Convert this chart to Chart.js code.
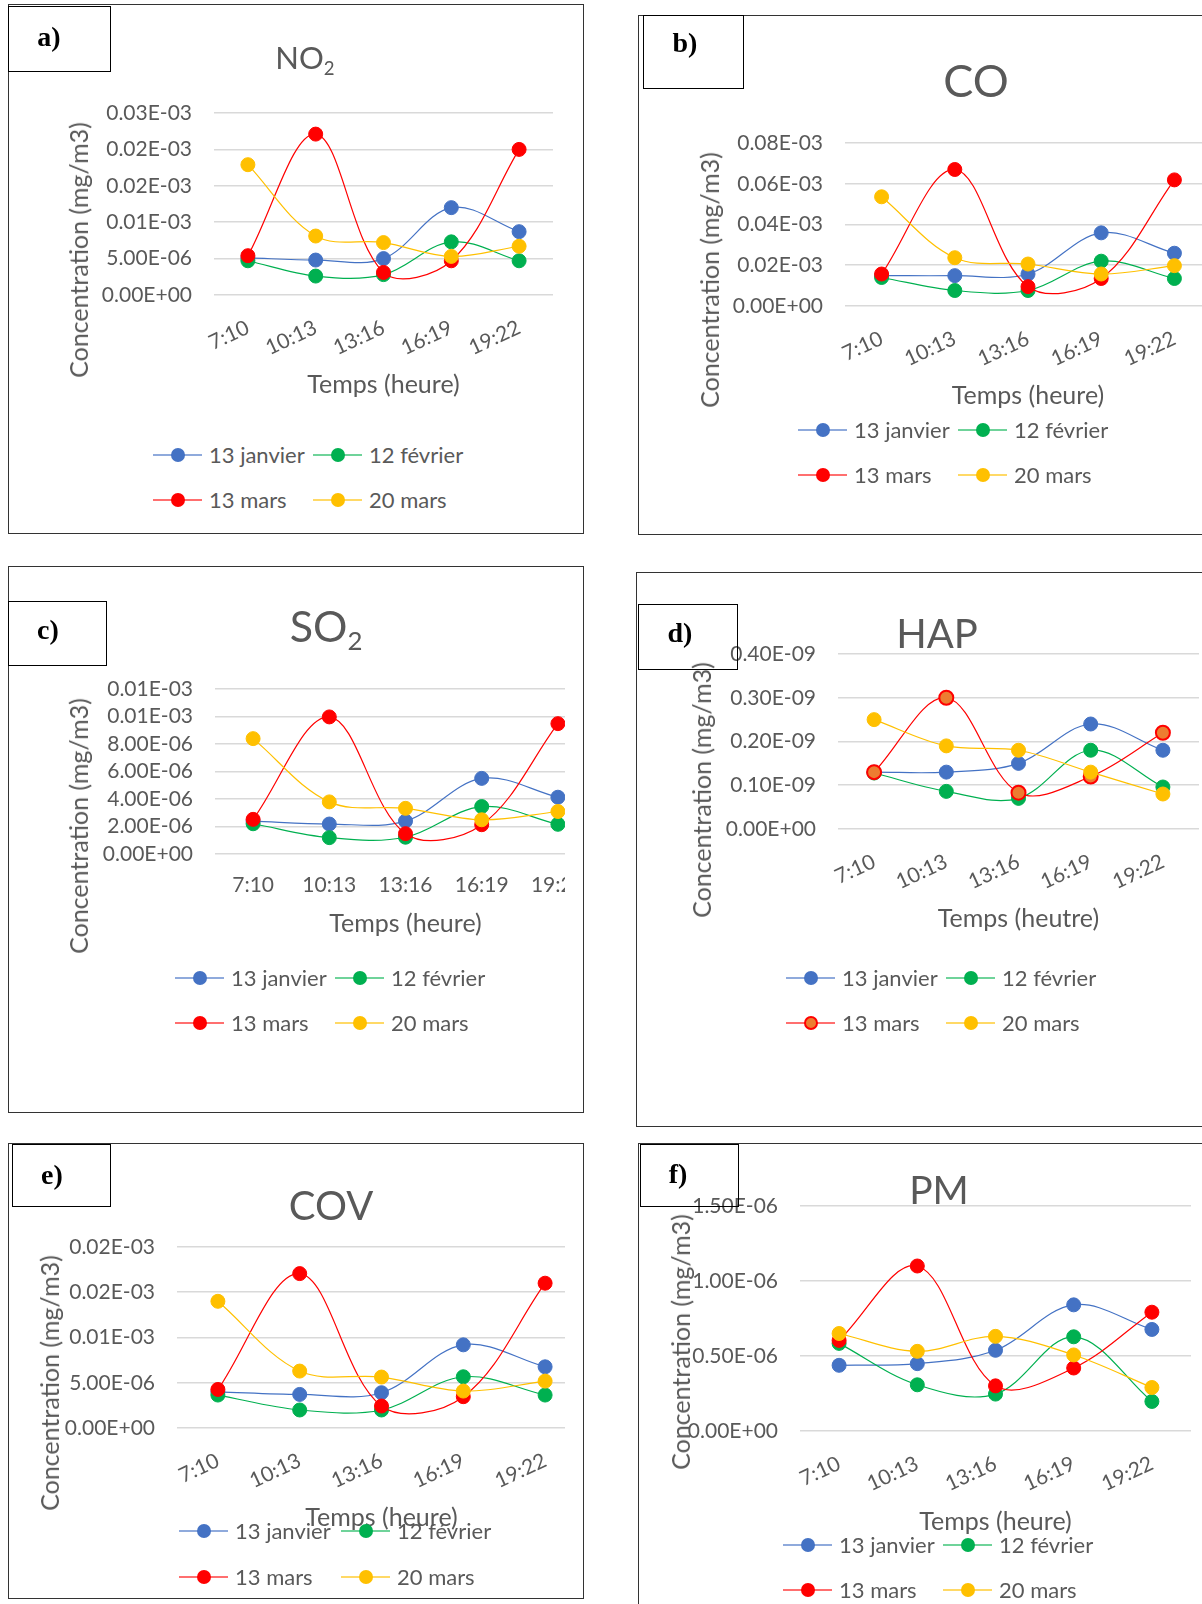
<!DOCTYPE html>
<html>
<head>
<meta charset="utf-8">
<script src="https://cdn.jsdelivr.net/npm/chart.js@4.4.1/dist/chart.umd.min.js"></script>
<style>
html, body { margin:0; padding:0; width:1202px; height:1604px; overflow:hidden; background:#fff; font-family:Lato, sans-serif; }
.frame { position:absolute; border:1.5px solid #333; box-sizing:border-box; }
.tag { position:absolute; border:1.5px solid #000; box-sizing:border-box; }
.t { position:absolute; white-space:nowrap; color:#595959; line-height:1.2; }
.tag-txt { position:absolute; transform:translate(-50%,-50%); font:bold 28px "Liberation Serif", serif; color:#000; }
.clip { position:absolute; left:0; top:0; height:1604px; overflow:hidden; }
sub { font-size:0.6em; vertical-align:-0.3em; }
</style>
</head>
<body>
<script>
const hours = ['7:10', '10:13', '13:16', '16:19', '19:22'];
const days = ['13 janvier', '12 février', '13 mars', '20 mars'];
const dayColors = ['#4472C4', '#00B050', '#FF0000', '#FFC000'];
const legendLines = ['#8FAADC', '#6FD39A', '#FF6F6F', '#FFD966'];

// a) NO2
const no2Jan = [5.1e-6, 4.8e-6, 5.0e-6, 12.0e-6, 8.7e-6];
const no2Fev = [4.7e-6, 2.6e-6, 2.8e-6, 7.3e-6, 4.7e-6];
const no2Mar = [5.4e-6, 22.1e-6, 3.1e-6, 4.7e-6, 20.0e-6];
const no2Mar20 = [17.9e-6, 8.1e-6, 7.2e-6, 5.3e-6, 6.7e-6];
const no2Ticks = ['0.00E+00', '5.00E-06', '0.01E-03', '0.02E-03', '0.02E-03', '0.03E-03'];

// b) CO
const coJan = [14.9e-6, 14.9e-6, 15.7e-6, 35.9e-6, 25.9e-6];
const coFev = [14.0e-6, 7.6e-6, 7.6e-6, 22.0e-6, 13.5e-6];
const coMar = [15.7e-6, 67.0e-6, 9.5e-6, 13.5e-6, 61.9e-6];
const coMar20 = [53.6e-6, 23.7e-6, 20.6e-6, 15.7e-6, 19.8e-6];
const coTicks = ['0.00E+00', '0.02E-03', '0.04E-03', '0.06E-03', '0.08E-03'];

// c) SO2
const so2Jan = [2.39e-6, 2.18e-6, 2.39e-6, 5.5e-6, 4.13e-6];
const so2Fev = [2.2e-6, 1.19e-6, 1.22e-6, 3.45e-6, 2.16e-6];
const so2Mar = [2.52e-6, 9.97e-6, 1.48e-6, 2.13e-6, 9.48e-6];
const so2Mar20 = [8.39e-6, 3.79e-6, 3.32e-6, 2.49e-6, 3.09e-6];
const so2Ticks = ['0.00E+00', '2.00E-06', '4.00E-06', '6.00E-06', '8.00E-06', '0.01E-03', '0.01E-03'];

// d) HAP
const hapJan = [0.13e-9, 0.13e-9, 0.15e-9, 0.24e-9, 0.18e-9];
const hapFev = [0.128e-9, 0.086e-9, 0.07e-9, 0.18e-9, 0.096e-9];
const hapMar = [0.13e-9, 0.30e-9, 0.083e-9, 0.12e-9, 0.22e-9];
const hapMar20 = [0.25e-9, 0.19e-9, 0.18e-9, 0.13e-9, 0.08e-9];
const hapTicks = ['0.00E+00', '0.10E-09', '0.20E-09', '0.30E-09', '0.40E-09'];

// e) COV
const covJan = [4.0e-6, 3.71e-6, 3.9e-6, 9.19e-6, 6.76e-6];
const covFev = [3.64e-6, 1.99e-6, 1.99e-6, 5.66e-6, 3.64e-6];
const covMar = [4.26e-6, 17.06e-6, 2.43e-6, 3.46e-6, 16.0e-6];
const covMar20 = [14.0e-6, 6.29e-6, 5.63e-6, 4.08e-6, 5.18e-6];
const covTicks = ['0.00E+00', '5.00E-06', '0.01E-03', '0.02E-03', '0.02E-03'];

// f) PM
const pmJan = [0.438e-6, 0.449e-6, 0.538e-6, 0.841e-6, 0.677e-6];
const pmFev = [0.584e-6, 0.308e-6, 0.246e-6, 0.628e-6, 0.197e-6];
const pmMar = [0.604e-6, 1.10e-6, 0.301e-6, 0.42e-6, 0.792e-6];
const pmMar20 = [0.650e-6, 0.531e-6, 0.631e-6, 0.507e-6, 0.29e-6];
const pmTicks = ['0.00E+00', '0.50E-06', '1.00E-06', '1.50E-06'];

const grey = '#595959';

// layout of each panel (page pixels)
const panels = [
  { tagText:'a)', frame:[8,4,584,534], tag:[8,6,111,72], tagAt:[49,37],
    title:'NO<sub>2</sub>', titleAt:[305,59], titleSize:31,
    area:[214,113,553,295], clip:0, rot:25, yTicks:no2Ticks, step:5e-6,
    series:[no2Jan, no2Fev, no2Mar, no2Mar20],
    xTitle:'Temps (heure)', xTitleY:385, yTitleAt:[78,250], legend:[153,313,455,500] },
  { tagText:'b)', frame:[638,15,1240,535], tag:[643,15,744,89], tagAt:[685,43],
    title:'CO', titleAt:[976,80], titleSize:45,
    area:[845,143,1211,306], clip:0, rot:25, yTicks:coTicks, step:20e-6,
    series:[coJan, coFev, coMar, coMar20],
    xTitle:'Temps (heure)', xTitleY:396, yTitleAt:[709,280], legend:[798,958,430,475] },
  { tagText:'c)', frame:[8,566,584,1113], tag:[8,601,107,666], tagAt:[48,630],
    title:'SO<sub>2</sub>', titleAt:[326,628], titleSize:43,
    area:[215,689,596,854], clip:565, rot:0, yTicks:so2Ticks, step:2e-6,
    series:[so2Jan, so2Fev, so2Mar, so2Mar20],
    xTitle:'Temps (heure)', xTitleY:924, yTitleAt:[78,826], legend:[175,335,978,1023] },
  { tagText:'d)', frame:[636,572,1240,1127], tag:[638,604,738,670], tagAt:[680,633],
    title:'HAP', titleAt:[937,633], titleSize:40,
    area:[838,654,1199,829], clip:0, rot:25, yTicks:hapTicks, step:0.1e-9,
    series:[hapJan, hapFev, hapMar, hapMar20], orangeMars:true,
    xTitle:'Temps (heutre)', xTitleY:919, yTitleAt:[701,790], legend:[786,946,978,1023] },
  { tagText:'e)', frame:[8,1143,584,1599], tag:[12,1144,111,1207], tagAt:[52,1175],
    title:'COV', titleAt:[331,1205], titleSize:40,
    area:[177,1247,586,1428], clip:565, rot:25, yTicks:covTicks, step:5e-6,
    series:[covJan, covFev, covMar, covMar20],
    xTitle:'Temps (heure)', xTitleY:1518, yTitleAt:[49,1383], legend:[179,341,1531,1577] },
  { tagText:'f)', frame:[638,1143,1240,1660], tag:[640,1144,739,1207], tagAt:[678,1174],
    title:'PM', titleAt:[939,1189], titleSize:39,
    area:[800,1206,1191,1431], clip:0, rot:25, yTicks:pmTicks, step:0.5e-6,
    series:[pmJan, pmFev, pmMar, pmMar20],
    xTitle:'Temps (heure)', xTitleY:1522, yTitleAt:[680,1342], legend:[783,943,1545,1590] }
];

function rect(cls, r) {
  const d = document.createElement('div');
  d.className = cls;
  d.style.left = r[0] + 'px'; d.style.top = r[1] + 'px';
  d.style.width = (r[2] - r[0]) + 'px'; d.style.height = (r[3] - r[1]) + 'px';
  document.body.appendChild(d);
  return d;
}

function text(html, x, y, size, rotate) {
  const d = document.createElement('div');
  d.className = 't';
  d.innerHTML = html;
  d.style.left = x + 'px'; d.style.top = y + 'px';
  d.style.fontSize = size + 'px';
  d.style.transform = 'translate(-50%,-50%)' + (rotate ? ' rotate(-90deg)' : '');
  document.body.appendChild(d);
  return d;
}

function legendItem(x, y, i, orange) {
  const line = document.createElement('div');
  line.style.cssText = `position:absolute;left:${x}px;top:${y - 1}px;width:49px;height:2px;background:${legendLines[i]}`;
  document.body.appendChild(line);
  const dot = document.createElement('div');
  const fill = orange ? '#ED7D31' : dayColors[i];
  const bw = orange ? 2 : 0;
  dot.style.cssText = `position:absolute;left:${x + 25 - 7}px;top:${y - 7}px;width:14px;height:14px;border-radius:50%;box-sizing:border-box;background:${fill};border:${bw}px solid ${dayColors[i]}`;
  document.body.appendChild(dot);
  const lab = document.createElement('div');
  lab.className = 't';
  lab.textContent = days[i];
  lab.style.left = (x + 56) + 'px';
  lab.style.top = y + 'px';
  lab.style.fontSize = '22px';
  lab.style.transform = 'translate(0,-50%)';
  document.body.appendChild(lab);
}

function panel(p) {
  rect('frame', p.frame);
  const [al, at, ar, ab] = p.area;
  const YW = 150, PT = 44, PR = 12;
  const XH = p.xTitleY + 15 - ab;
  const holder = document.createElement('div');
  holder.className = 'clip';
  holder.style.width = (p.clip || 1202) + 'px';
  document.body.appendChild(holder);
  const cv = document.createElement('canvas');
  const cw = ar - al + YW + PR, ch = ab - at + PT + XH;
  cv.width = cw; cv.height = ch;
  cv.style.cssText = `position:absolute;left:${al - YW}px;top:${at - PT}px;width:${cw}px;height:${ch}px`;
  holder.appendChild(cv);

  const labels = p.yTicks;
  const step = p.step;
  const datasets = p.series.map((vals, i) => {
    const orange = p.orangeMars && i === 2;
    return {
      label: days[i],
      data: vals,
      borderColor: dayColors[i],
      backgroundColor: dayColors[i],
      pointBackgroundColor: orange ? '#ED7D31' : dayColors[i],
      pointBorderColor: dayColors[i],
      pointBorderWidth: orange ? 2 : 1,
      pointRadius: 7,
      borderWidth: 1.2,
      tension: 0.35,
      fill: false,
      clip: false,
      order: 4 - i
    };
  });

  new Chart(cv, {
    type: 'line',
    data: { labels: hours, datasets: datasets },
    options: {
      responsive: false,
      animation: false,
      layout: { padding: { top: PT, right: PR, left: 0, bottom: 0 } },
      plugins: { legend: { display: false }, title: { display: false }, tooltip: { enabled: false } },
      scales: {
        x: {
          offset: true,
          grid: { display: false },
          border: { display: false },
          ticks: {
            color: grey, font: { family: 'Lato', size: 21 },
            padding: p.rot ? 12 : 11, minRotation: p.rot, maxRotation: p.rot, autoSkip: false
          },
          title: { display: true, text: p.xTitle, color: grey, font: { family: 'Lato', size: 25, lineHeight: 1.2 }, padding: 0 },
          afterFit: s => { s.height = XH; }
        },
        y: {
          min: 0,
          max: step * (labels.length - 1),
          grid: { color: '#D9D9D9', lineWidth: 1.6, drawTicks: false },
          border: { display: false },
          ticks: {
            color: grey, font: { family: 'Lato', size: 21 }, padding: 22, autoSkip: false,
            callback: (v, i) => labels[i]
          },
          afterBuildTicks: s => { s.ticks = labels.map((l, i) => ({ value: i * step })); },
          afterFit: s => { s.width = YW; }
        }
      }
    }
  });

  text(p.title, p.titleAt[0], p.titleAt[1], p.titleSize);
  text('Concentration (mg/m3)', p.yTitleAt[0], p.yTitleAt[1], 25, true);

  const [x1, x2, y1, y2] = p.legend;
  legendItem(x1, y1, 0);
  legendItem(x2, y1, 1);
  legendItem(x1, y2, 2, p.orangeMars);
  legendItem(x2, y2, 3);

  rect('tag', p.tag);
  const tt = document.createElement('div');
  tt.className = 'tag-txt';
  tt.textContent = p.tagText;
  tt.style.left = p.tagAt[0] + 'px'; tt.style.top = p.tagAt[1] + 'px';
  document.body.appendChild(tt);
}

panels.forEach(panel);
</script>
</body>
</html>
